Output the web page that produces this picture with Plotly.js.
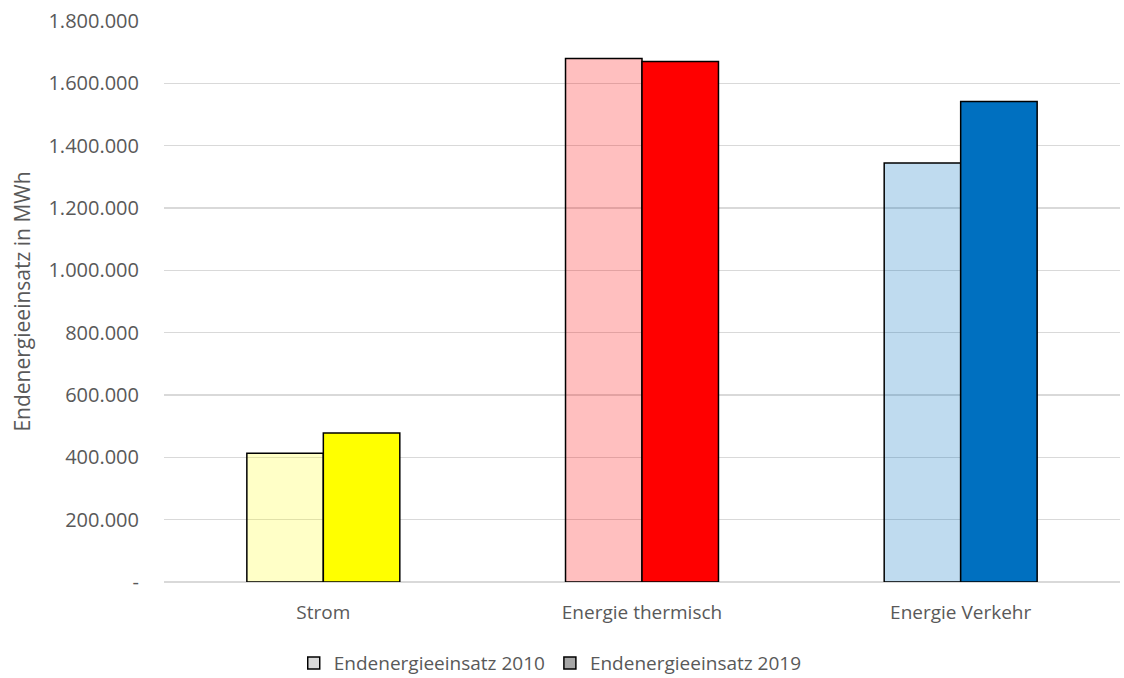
<!DOCTYPE html>
<html>
<head>
<meta charset="utf-8">
<script src="https://cdn.plot.ly/plotly-3.0.1.min.js"></script>
<style>
html,body{margin:0;padding:0;background:#fff;}
#chart{width:1124px;height:678px;}
</style>
</head>
<body>
<div id="chart"></div>
<script>
const categories = ["Strom", "Energie thermisch", "Energie Verkehr"];
const values2010 = [413000, 1680000, 1344000];
const values2019 = [478000, 1670000, 1542000];
const seriesNames = ["Endenergieeinsatz 2010", "Endenergieeinsatz 2019"];
const tickValues = [0, 200000, 400000, 600000, 800000, 1000000, 1200000, 1400000, 1600000, 1800000];
const tickLabels = ["-", "200.000", "400.000", "600.000", "800.000", "1.000.000", "1.200.000", "1.400.000", "1.600.000", "1.800.000"];

const colors2010 = ["rgba(255,255,0,0.22)", "rgba(255,0,0,0.25)", "rgba(0,112,192,0.25)"];
const colors2019 = ["#FFFF00", "#FF0000", "#0070C0"];
const legendColors = ["#D9D9D9", "#A6A6A6"];
const textColor = "#595959";

const lineStyle = {color: "#000000", width: 1.5};

const traces = [
  {type: "bar", x: categories, y: values2010, name: seriesNames[0], showlegend: false, offsetgroup: "a",
   marker: {color: colors2010, line: lineStyle}, hoverinfo: "x+y"},
  {type: "bar", x: categories, y: values2019, name: seriesNames[1], showlegend: false, offsetgroup: "b",
   marker: {color: colors2019, line: lineStyle}, hoverinfo: "x+y"},
  {type: "bar", x: [categories[0]], y: [null], name: seriesNames[0], showlegend: true, offsetgroup: "a",
   marker: {color: legendColors[0], line: lineStyle}},
  {type: "bar", x: [categories[0]], y: [null], name: seriesNames[1], showlegend: true, offsetgroup: "b",
   marker: {color: legendColors[1], line: lineStyle}}
];

const layout = {
  width: 1124, height: 678,
  paper_bgcolor: "#ffffff", plot_bgcolor: "#ffffff",
  margin: {l: 164, r: 4, t: 21, b: 96},
  barmode: "group",
  bargap: 0.52, bargroupgap: 0,
  font: {family: "'Open Sans', 'Noto Sans', sans-serif", color: textColor, size: 19},
  showlegend: true,
  legend: {orientation: "h", xref: "paper", x: 0.404, xanchor: "center",
           yref: "container", y: 0.022, yanchor: "middle",
           font: {family: "'Liberation Sans Narrow', 'Open Sans', sans-serif", size: 19, color: textColor},
           traceorder: "normal", itemwidth: 30},
  xaxis: {type: "category", showgrid: false, showline: false, zeroline: false, automargin: false,
          ticks: "", ticklabelstandoff: 17, tickfont: {size: 19, color: textColor}, fixedrange: true},
  yaxis: {range: [0, 1800000], tickvals: tickValues, ticktext: tickLabels, automargin: false,
          showgrid: true, gridcolor: "#D9D9D9", gridwidth: 1.3, zeroline: true, zerolinecolor: "#D9D9D9", zerolinewidth: 1.3,
          showline: false, ticks: "", ticklabelstandoff: 24,
          tickfont: {size: 20, color: textColor},
          title: {text: "Endenergieeinsatz in MWh", font: {size: 21, color: textColor}, standoff: 12},
          fixedrange: true}
};

Plotly.newPlot("chart", traces, layout, {displayModeBar: false, staticPlot: true});
</script>
</body>
</html>
